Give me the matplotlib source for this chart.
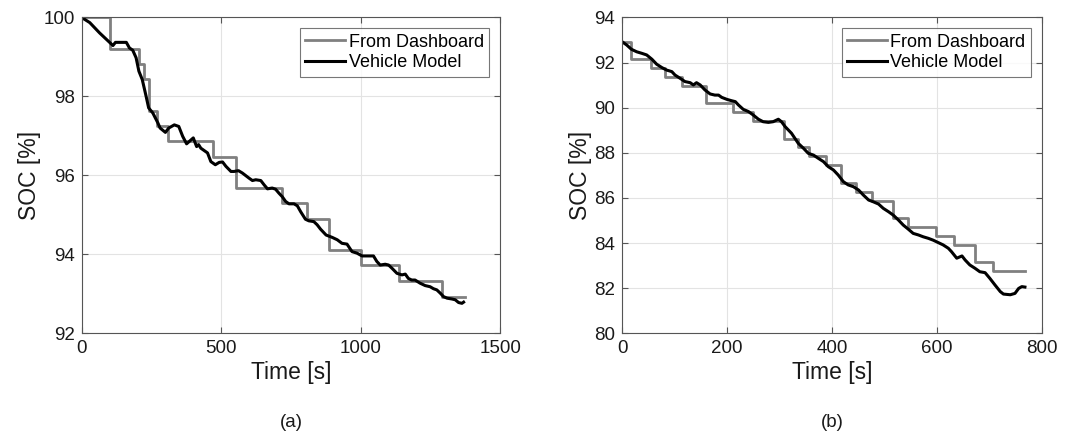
import matplotlib
matplotlib.use("Agg")
import matplotlib.pyplot as plt

plt.rcParams['font.family'] = ['Liberation Sans', 'DejaVu Sans']

# (a) dashboard steps
a_dash_t = [0, 100, 205, 223, 240, 270, 308, 469, 552, 717, 806, 888, 1002, 1136, 1290, 1375]
a_dash_v = [100.0, 99.21, 98.82, 98.43, 97.64, 97.25, 96.86, 96.47, 95.69, 95.29, 94.90, 94.12, 93.73, 93.33, 92.93, 92.93]
# (a) vehicle model
a_mod_t = [0, 29, 64, 100, 112, 121, 160, 171, 183, 195, 205, 217, 231, 240, 255, 273, 281, 300, 312, 332,
           348, 362, 376, 392, 400, 407, 412, 419, 427, 451, 463, 479, 493, 505, 517, 535, 546, 562, 576, 600,
           612, 624, 642, 654, 666, 683, 695, 707, 719, 731, 743, 761, 773, 785, 802, 814, 832, 844, 856, 876,
           898, 916, 933, 951, 969, 987, 1005, 1017, 1046, 1058, 1070, 1088, 1100, 1112, 1130, 1148, 1160, 1171,
           1183, 1195, 1213, 1231, 1249, 1261, 1273, 1285, 1297, 1310, 1327, 1339, 1351, 1363, 1369]
a_mod_v = [100.0, 99.87, 99.61, 99.37, 99.29, 99.37, 99.37, 99.23, 99.17, 98.98, 98.64, 98.43, 98.0, 97.71, 97.58,
           97.33, 97.20, 97.09, 97.20, 97.28, 97.24, 96.99, 96.80, 96.90, 96.95, 96.82, 96.73, 96.78, 96.69, 96.57,
           96.35, 96.27, 96.33, 96.34, 96.23, 96.10, 96.10, 96.12, 96.06, 95.93, 95.87, 95.89, 95.87, 95.76, 95.66,
           95.68, 95.65, 95.55, 95.46, 95.34, 95.28, 95.28, 95.23, 95.08, 94.89, 94.85, 94.83, 94.75, 94.64, 94.49,
           94.43, 94.37, 94.28, 94.26, 94.07, 94.03, 93.96, 93.96, 93.96, 93.82, 93.73, 93.75, 93.73, 93.65, 93.52,
           93.48, 93.50, 93.39, 93.35, 93.35, 93.27, 93.21, 93.18, 93.13, 93.10, 93.02, 92.93, 92.89, 92.87, 92.85,
           92.78, 92.76, 92.79]

# (b) dashboard steps
b_dash_t = [0, 18, 55, 82, 114, 160, 211, 250, 309, 335, 357, 389, 417, 446, 476, 517, 546, 599, 632, 673, 708, 768]
b_dash_v = [92.93, 92.15, 91.76, 91.37, 90.98, 90.20, 89.80, 89.41, 88.63, 88.24, 87.85, 87.45, 86.67, 86.27,
            85.88, 85.10, 84.70, 84.31, 83.92, 83.14, 82.75, 82.75]
# (b) vehicle model
b_mod_t = [0, 9, 18, 28, 38, 47, 57, 66, 76, 85, 95, 101, 111, 120, 130, 136, 142, 149, 158, 168, 177, 184, 190,
           200, 209, 216, 222, 231, 241, 250, 260, 269, 279, 288, 298, 304, 311, 323, 336, 346, 355, 365, 374, 384,
           393, 403, 412, 422, 431, 441, 451, 460, 470, 479, 489, 498, 508, 517, 527, 536, 546, 555, 565, 574, 584,
           593, 603, 612, 622, 628, 638, 648, 654, 663, 673, 682, 692, 701, 711, 721, 727, 740, 749, 756, 762, 768]
b_mod_v = [92.93, 92.78, 92.59, 92.48, 92.41, 92.34, 92.15, 91.93, 91.78, 91.67, 91.60, 91.45, 91.30, 91.16, 91.11,
           91.01, 91.11, 91.01, 90.79, 90.61, 90.56, 90.56, 90.46, 90.37, 90.31, 90.27, 90.12, 89.93, 89.83, 89.68,
           89.49, 89.38, 89.35, 89.38, 89.49, 89.38, 89.16, 88.87, 88.42, 88.20, 87.98, 87.90, 87.76, 87.61, 87.39,
           87.24, 87.02, 86.72, 86.58, 86.50, 86.35, 86.13, 85.91, 85.83, 85.73, 85.54, 85.39, 85.24, 85.02, 84.80,
           84.61, 84.43, 84.36, 84.28, 84.21, 84.13, 84.02, 83.92, 83.77, 83.62, 83.33, 83.43, 83.25, 83.03, 82.88,
           82.73, 82.69, 82.44, 82.14, 81.85, 81.74, 81.71, 81.77, 81.99, 82.07, 82.05]

a_xticks = [0, 500, 1000, 1500]
a_yticks = [92, 94, 96, 98, 100]
b_xticks = [0, 200, 400, 600, 800]
b_yticks = [80, 82, 84, 86, 88, 90, 92, 94]
legend_labels = ["From Dashboard", "Vehicle Model"]

fig = plt.figure(figsize=(10.68, 4.33), dpi=100)
ax1 = fig.add_axes([0.0765, 0.2302, 0.3918, 0.7294])
ax2 = fig.add_axes([0.5824, 0.2302, 0.3930, 0.7294])

panels = [
    (ax1, a_dash_t, a_dash_v, a_mod_t, a_mod_v, (0, 1500), (92, 100), a_xticks, a_yticks, "(a)"),
    (ax2, b_dash_t, b_dash_v, b_mod_t, b_mod_v, (0, 800), (80, 94), b_xticks, b_yticks, "(b)"),
]

for ax, dt, dv, mt, mv, xl, yl, xt, yt, tag in panels:
    ax.plot(dt, dv, drawstyle='steps-post', color='#808080', lw=2.0, label=legend_labels[0])
    ax.plot(mt, mv, color='black', lw=2.2, label=legend_labels[1])
    ax.set_xlim(*xl)
    ax.set_ylim(*yl)
    ax.set_xticks(xt)
    ax.set_yticks(yt)
    ax.grid(True, color='#e3e3e3', lw=0.8)
    ax.set_axisbelow(True)
    for s in ax.spines.values():
        s.set_color('#555555')
        s.set_linewidth(0.8)
    ax.tick_params(direction='in', top=True, right=True, length=4, width=0.8,
                   colors='#555555', labelcolor='#1a1a1a', labelsize=13.5, pad=5)
    ax.set_xlabel("Time [s]", fontsize=16.5, color='#1a1a1a', labelpad=3)
    ax.set_ylabel("SOC [%]", fontsize=16.5, color='#1a1a1a', labelpad=1.5)
    ax.text(0.5, -0.255, tag, transform=ax.transAxes, ha='center', va='top', fontsize=13.5, color='#1a1a1a')
    leg = ax.legend(loc='upper right', fontsize=13, frameon=True, fancybox=False, borderpad=0.3,
                    handlelength=2.2, handletextpad=0.2, labelspacing=0.2, borderaxespad=0.6)
    leg.get_frame().set_edgecolor('#555555')
    leg.get_frame().set_linewidth(0.8)

fig.savefig("out.png", dpi=100)
